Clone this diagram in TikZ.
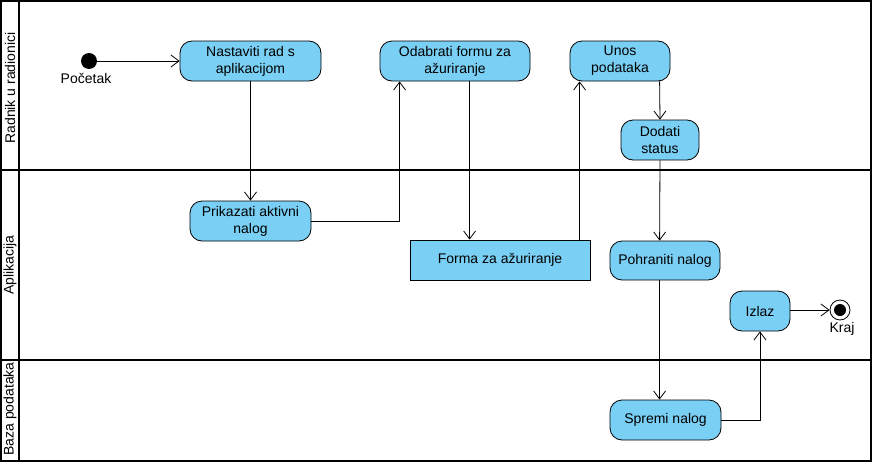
\documentclass[tikz,border=0pt]{standalone}
\usepackage{fontspec}
\setmainfont{Liberation Sans}
\usetikzlibrary{arrows.meta}
\definecolor{actfill}{HTML}{7ACFF5}
\begin{document}
\begin{tikzpicture}[x=1pt,y=-1pt,
  txt/.style={font=\fontsize{14}{17}\selectfont},
  act/.style={txt, draw, fill=actfill, rounded corners=12pt, line width=0.8pt, align=center, inner sep=0pt},
  frm/.style={txt, draw, fill=actfill, line width=0.8pt, align=center, inner sep=0pt},
  flow/.style={-{Straight Barb[length=8pt,width=12pt,line width=0.8pt]}, line width=0.8pt},
  lane/.style={line width=1.8pt},
  lanelabel/.style={txt, rotate=90, inner sep=0pt}]
\useasboundingbox (0,0) rectangle (876,466);
% swimlanes
\draw[lane] (1,1) rectangle (871,461);
\draw[lane] (19,1) -- (19,461);
\draw[lane] (1,170) -- (871,170);
\draw[lane] (1,360) -- (871,360);
\node[lanelabel] (l1) at (10,88) {Radnik u radionici};
\node[lanelabel] (l2) at (10,265) {Aplikacija};
\node[lanelabel] (l3) at (10,409) {Baza podataka};
% nodes
\node[circle, fill=black, minimum size=16pt, inner sep=0pt] (start) at (89,61) {};
\node[txt, anchor=north, inner sep=0pt] (startl) at (86,73) {Početak};
\node[act, minimum width=141pt, minimum height=40pt] (nast) at (250.5,61) {Nastaviti rad s\\aplikacijom};
\node[act, minimum width=150pt, minimum height=40pt] (odab) at (455,61) {Odabrati formu za\\ažuriranje};
\node[act, minimum width=100pt, minimum height=40pt] (unos) at (620,61) {Unos\\podataka};
\node[act, minimum width=78pt, minimum height=40pt] (dod) at (660,140) {Dodati\\status};
\node[act, minimum width=121pt, minimum height=40pt] (prik) at (250.5,221) {Prikazati aktivni\\nalog};
\node[frm, minimum width=180pt, minimum height=40pt] (forma) at (500,260) {Forma za ažuriranje};
\node[act, minimum width=110pt, minimum height=39pt] (pohr) at (665,260.5) {Pohraniti nalog};
\node[act, minimum width=111pt, minimum height=40pt] (spr) at (665.5,420) {Spremi nalog};
\node[act, minimum width=60pt, minimum height=40pt] (izl) at (760,311) {Izlaz};
\node[circle, draw, line width=0.8pt, fill=white, minimum size=20pt, inner sep=0pt] (kraj) at (840,310) {};
\node[circle, fill=black, minimum size=12pt, inner sep=0pt] (krajin) at (kraj.center) {};
\node[txt, anchor=north, inner sep=0pt] (krajl) at (842,322) {Kraj};
% flows
\draw[flow] (start) -- (nast.west |- start);
\draw[flow] (nast) -- (prik);
\draw[flow] (prik.east) -| ([xshift=20pt]odab.south west);
\draw[flow] ([xshift=90pt]odab.south west) -- ([xshift=60pt]forma.north west);
\draw[flow] ([xshift=170pt]forma.north west) -- ([xshift=10pt]unos.south west);
\draw[flow] ([xshift=90pt]unos.south west) -- (dod.north);
\draw[flow] (dod.south) -- ([xshift=50pt]pohr.north west);
\draw[flow] ([xshift=50pt]pohr.south west) -- ([xshift=50pt]spr.north west);
\draw[flow] (spr.east) -| (izl.south);
\draw[flow] (izl.east |- kraj) -- (kraj.west);
\end{tikzpicture}
\end{document}
